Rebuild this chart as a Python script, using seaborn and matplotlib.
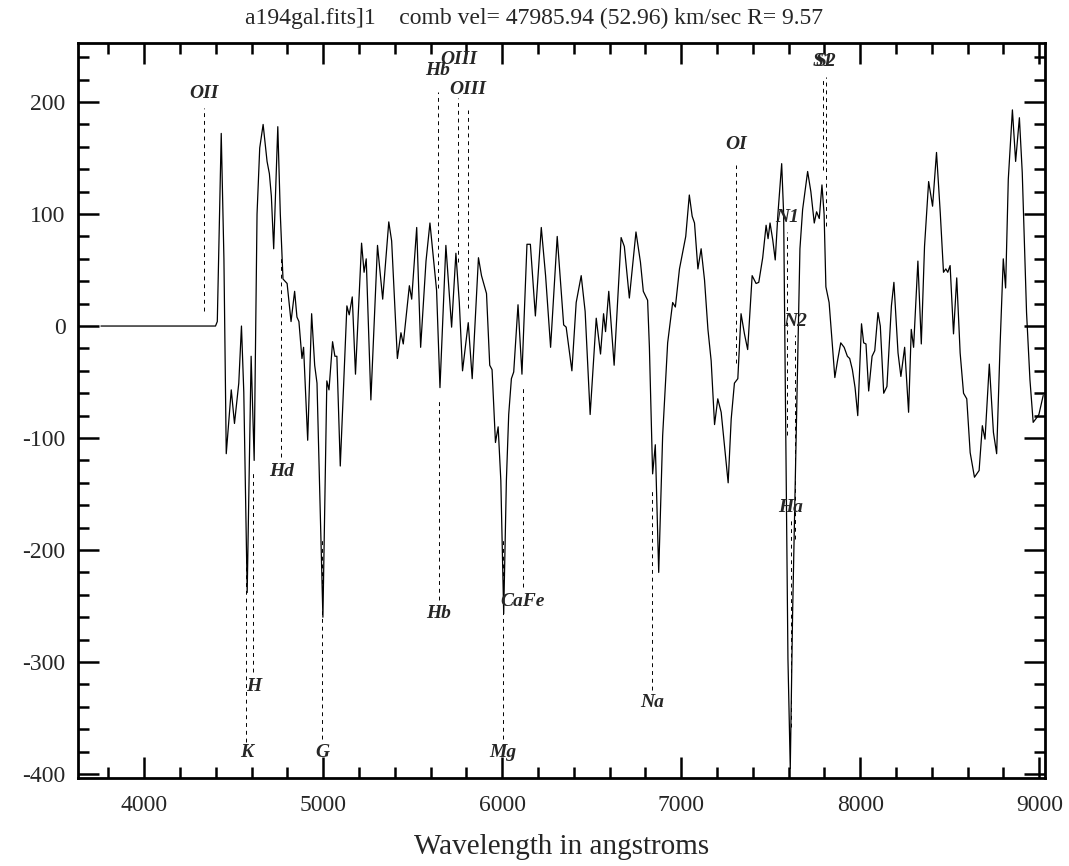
import pandas as pd
import seaborn as sns
import matplotlib.pyplot as plt
from matplotlib.ticker import MultipleLocator

# cross-correlation spectrum
wave = [3758, 4398, 4408, 4430, 4445, 4458, 4486, 4504, 4528, 4543, 4556, 4575, 4597, 4614,
        4630, 4645, 4664, 4686, 4699, 4710, 4723, 4746, 4760, 4775, 4798, 4820, 4840, 4853,
        4864, 4881, 4890, 4913, 4935, 4952, 4965, 4998, 5020, 5032, 5052, 5065, 5076, 5095,
        5132, 5145, 5162, 5180, 5214, 5228, 5240, 5266, 5303, 5332, 5366, 5382, 5414, 5434,
        5447, 5481, 5494, 5522, 5544, 5574, 5596, 5633, 5652, 5685, 5717, 5741, 5760, 5778,
        5810, 5832, 5867, 5884, 5912, 5930, 5943, 5962, 5977, 5992, 6008, 6023, 6036, 6051,
        6064, 6088, 6110, 6138, 6157, 6185, 6218, 6242, 6270, 6307, 6343, 6357, 6389, 6413,
        6441, 6463, 6491, 6525, 6549, 6566, 6577, 6595, 6625, 6664, 6682, 6710, 6747, 6772,
        6788, 6812, 6822, 6840, 6855, 6874, 6896, 6924, 6952, 6967, 6990, 7025, 7045, 7061,
        7074, 7093, 7111, 7130, 7149, 7167, 7186, 7204, 7223, 7241, 7262, 7279, 7297, 7316,
        7334, 7353, 7371, 7396, 7418, 7433, 7455, 7474, 7485, 7496, 7511, 7525, 7540, 7561,
        7572, 7585, 7596, 7609, 7622, 7637, 7652, 7663, 7678, 7706, 7724, 7743, 7756, 7771,
        7786, 7798, 7808, 7826, 7841, 7858, 7873, 7891, 7910, 7928, 7941, 7956, 7971, 7986,
        8007, 8019, 8032, 8047, 8066, 8081, 8099, 8112, 8131, 8149, 8174, 8188, 8211, 8227,
        8248, 8270, 8285, 8298, 8322, 8341, 8359, 8382, 8404, 8426, 8447, 8465, 8478, 8489,
        8502, 8521, 8539, 8558, 8577, 8595, 8614, 8638, 8664, 8682, 8697, 8721, 8744, 8762,
        8781, 8799, 8812, 8827, 8850, 8868, 8889, 8905, 8929, 8948, 8966, 8985, 8998, 9022]
flux = [0, 0, 4, 172, 60, -114, -57, -87, -51, 0, -59, -238, -27, -120,
        100, 159, 180, 147, 136, 116, 69, 178, 100, 42, 38, 4, 31, 8,
        4, -29, -19, -102, 11, -35, -51, -260, -49, -57, -14, -27, -27, -125,
        18, 10, 26, -43, 74, 48, 60, -66, 72, 24, 93, 76, -29, -6,
        -16, 36, 24, 88, -19, 58, 92, 32, -55, 72, -1, 65, 21, -40,
        3, -47, 61, 45, 29, -35, -39, -104, -90, -138, -257, -138, -79, -47,
        -41, 19, -43, 73, 73, 9, 88, 45, -19, 80, 1, -1, -40, 21,
        45, 13, -79, 7, -25, 11, -5, 31, -35, 79, 71, 25, 84, 57,
        31, 23, -19, -132, -106, -220, -98, -15, 21, 17, 51, 80, 117, 98,
        92, 51, 69, 41, -3, -31, -88, -65, -77, -106, -140, -83, -51, -47,
        11, -7, -21, 45, 38, 39, 61, 90, 78, 92, 77, 59, 100, 145,
        100, -118, -297, -395, -257, -138, -19, 69, 104, 138, 120, 92, 102, 96,
        126, 100, 35, 21, -11, -46, -31, -15, -19, -27, -29, -39, -55, -80,
        2, -15, -16, -58, -27, -22, 12, 0, -60, -54, 18, 39, -24, -45,
        -19, -77, -3, -19, 58, -16, 71, 129, 107, 155, 101, 48, 51, 48,
        54, -7, 43, -24, -60, -65, -113, -135, -129, -89, -101, -34, -95, -114,
        -18, 60, 34, 131, 193, 147, 186, 137, 12, -48, -86, -82, -79, -62]

# emission lines: label above, dashed line below the label
em_names = ['OII', 'Hb', 'OIII', 'OIII', 'OI', 'N1', 'N2', 'Ha', 'S1', 'S2']
em_wave = [4331, 5640, 5755, 5810, 7306, 7590, 7635, 7613, 7791, 7808]
em_label_y = [208, 228, 238, 211, 162, 97, 4, -162, 236, 236]
em_line_top = [195, 209, 204, 193, 144, 84, -8, -172, 222, 222]
em_line_bot = [13, 34, 57, 16, -33, -97, -190, -358, 139, 89]

# absorption lines: label below, dashed line above the label
ab_names = ['K', 'H', 'Hd', 'G', 'Hb', 'Mg', 'CaFe', 'Na']
ab_wave = [4571, 4610, 4766, 4993, 5646, 6003, 6114, 6838]
ab_label_y = [-381, -322, -130, -381, -257, -381, -246, -336]
ab_line_bot = [-371, -309, -117, -369, -245, -369, -233, -325]
ab_line_top = [-191, -130, 61, -189, -67, -189, -55, -145]

title = 'a194gal.fits]1    comb vel= 47985.94 (52.96) km/sec R= 9.57'

sns.set_style('ticks')
plt.rcParams['font.family'] = ['Liberation Serif', 'DejaVu Serif']
plt.rcParams['axes.unicode_minus'] = False

fig = plt.figure(figsize=(10.69, 8.66), dpi=100)
ax = fig.add_axes([0.073, 0.1016, 0.9047, 0.8487])

df = pd.DataFrame({'wave': wave, 'flux': flux})
sns.lineplot(data=df, x='wave', y='flux', sort=False, estimator=None,
             color='black', lw=0.9, ax=ax)

dash = (0, (4, 4))
ax.vlines(em_wave, em_line_bot, em_line_top, colors='black', linestyles=dash, lw=0.7)
ax.vlines(ab_wave, ab_line_bot, ab_line_top, colors='black', linestyles=dash, lw=0.7)
for name, x, y in zip(em_names + ab_names, em_wave + ab_wave, em_label_y + ab_label_y):
    ax.text(x, y, name, ha='center', va='center', style='italic',
            fontweight='bold', fontsize=14)

ax.set_xlim(3630, 9033)
ax.set_ylim(-403.6, 252.7)
ax.xaxis.set_major_locator(MultipleLocator(1000))
ax.xaxis.set_minor_locator(MultipleLocator(200))
ax.yaxis.set_major_locator(MultipleLocator(100))
ax.yaxis.set_minor_locator(MultipleLocator(20))
ax.tick_params(which='both', direction='in', top=True, right=True, width=1.8, color='black')
ax.tick_params(which='major', length=15, labelsize=17)
ax.tick_params(which='minor', length=8)
ax.tick_params(axis='y', pad=9)
ax.tick_params(axis='x', pad=12)
for sp in ax.spines.values():
    sp.set_linewidth(2)
    sp.set_color('black')

ax.set_xlabel('Wavelength in angstroms', fontsize=21, labelpad=13)
ax.set_ylabel('')
fig.text(534 / 1069, 1 - 18 / 866, title, ha='center', va='center', fontsize=17)

fig.savefig('out.png', dpi=100)
